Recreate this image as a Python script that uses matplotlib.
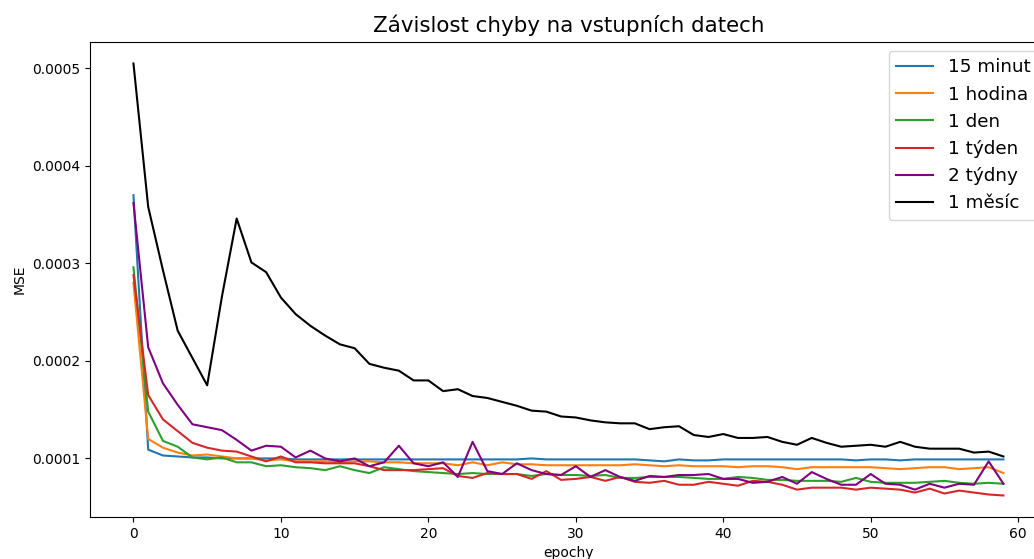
import numpy as np
import matplotlib.pyplot as plt
from matplotlib.ticker import FormatStrFormatter

# MSE hodnoty (v jednotkach 1e-4), epochy 0..59
epochs = np.arange(60)

mse_15min = [3.70, 1.09, 1.03, 1.02, 1.01, 1.01, 1.00, 1.00, 1.00, 1.00,
             1.00, 0.99, 0.99, 0.99, 0.99, 0.99, 0.99, 0.99, 0.99, 0.99,
             0.99, 0.99, 0.99, 0.99, 0.99, 0.99, 0.99, 1.00, 0.99, 0.99,
             0.99, 0.99, 0.99, 0.99, 0.99, 0.98, 0.97, 0.99, 0.98, 0.98,
             0.99, 0.99, 0.99, 0.99, 0.99, 0.99, 0.99, 0.99, 0.99, 0.98,
             0.99, 0.99, 0.98, 0.99, 0.99, 0.99, 0.99, 0.99, 0.99, 0.99]

mse_1h = [2.80, 1.20, 1.11, 1.06, 1.03, 1.04, 1.02, 1.00, 1.00, 0.98,
          0.99, 0.97, 0.97, 0.97, 0.96, 0.97, 0.97, 0.96, 0.96, 0.95,
          0.95, 0.95, 0.93, 0.96, 0.93, 0.96, 0.94, 0.94, 0.93, 0.93,
          0.93, 0.93, 0.93, 0.93, 0.94, 0.93, 0.92, 0.93, 0.92, 0.92,
          0.92, 0.91, 0.92, 0.92, 0.91, 0.89, 0.91, 0.91, 0.91, 0.91,
          0.91, 0.90, 0.89, 0.90, 0.91, 0.91, 0.89, 0.90, 0.91, 0.85]

mse_1d = [2.96, 1.48, 1.18, 1.12, 1.01, 0.99, 1.01, 0.96, 0.96, 0.92,
          0.93, 0.91, 0.90, 0.88, 0.92, 0.88, 0.85, 0.91, 0.89, 0.87,
          0.86, 0.85, 0.84, 0.85, 0.84, 0.84, 0.84, 0.82, 0.84, 0.83,
          0.83, 0.82, 0.83, 0.80, 0.80, 0.81, 0.81, 0.81, 0.80, 0.79,
          0.79, 0.81, 0.80, 0.78, 0.78, 0.77, 0.77, 0.77, 0.76, 0.80,
          0.76, 0.75, 0.75, 0.75, 0.76, 0.77, 0.75, 0.74, 0.75, 0.74]

mse_1w = [2.88, 1.65, 1.40, 1.28, 1.16, 1.11, 1.08, 1.07, 1.02, 0.97,
          1.02, 0.96, 0.96, 0.95, 0.95, 0.95, 0.92, 0.88, 0.88, 0.88,
          0.89, 0.90, 0.82, 0.80, 0.85, 0.84, 0.84, 0.79, 0.87, 0.78,
          0.79, 0.81, 0.77, 0.81, 0.76, 0.75, 0.77, 0.73, 0.73, 0.76,
          0.74, 0.72, 0.77, 0.76, 0.73, 0.68, 0.70, 0.70, 0.70, 0.68,
          0.70, 0.69, 0.68, 0.65, 0.69, 0.64, 0.67, 0.65, 0.63, 0.62]

mse_2w = [3.62, 2.14, 1.77, 1.55, 1.35, 1.32, 1.29, 1.19, 1.08, 1.13,
          1.12, 1.01, 1.08, 1.00, 0.97, 1.00, 0.92, 0.96, 1.13, 0.95,
          0.92, 0.96, 0.81, 1.17, 0.87, 0.84, 0.95, 0.88, 0.84, 0.83,
          0.92, 0.81, 0.88, 0.81, 0.77, 0.82, 0.81, 0.83, 0.83, 0.84,
          0.79, 0.79, 0.75, 0.76, 0.81, 0.74, 0.86, 0.79, 0.73, 0.73,
          0.84, 0.74, 0.73, 0.68, 0.74, 0.70, 0.74, 0.73, 0.97, 0.74]

mse_1m = [5.05, 3.58, 2.93, 2.31, 2.03, 1.75, 2.66, 3.46, 3.01, 2.91,
          2.65, 2.48, 2.36, 2.26, 2.17, 2.13, 1.97, 1.93, 1.90, 1.80,
          1.80, 1.69, 1.71, 1.64, 1.62, 1.58, 1.54, 1.49, 1.48, 1.43,
          1.42, 1.39, 1.37, 1.36, 1.36, 1.30, 1.32, 1.33, 1.24, 1.22,
          1.25, 1.21, 1.21, 1.22, 1.17, 1.14, 1.21, 1.16, 1.12, 1.13,
          1.14, 1.12, 1.17, 1.12, 1.10, 1.10, 1.10, 1.06, 1.07, 1.02]

labels = ['15 minut', '1 hodina', '1 den', '1 týden', '2 týdny', '1 měsíc']
colors = ['#1f77b4', '#ff7f0e', '#2ca02c', '#d62728', 'purple', 'black']

fig = plt.figure(figsize=(10.34, 5.59), dpi=100)
# obrazek je oriznuty vpravo a dole, proto osy presahuji plochu
ax = fig.add_axes([0.087, 0.075, 0.9255, 0.85])

series = [mse_15min, mse_1h, mse_1d, mse_1w, mse_2w, mse_1m]
for vals, lab, col in zip(series, labels, colors):
    ax.plot(epochs, np.array(vals) * 1e-4, color=col, label=lab)

ax.set_title('Závislost chyby na vstupních datech', fontsize=15.4, pad=7)
ax.set_xlabel('epochy')
ax.set_ylabel('MSE')
ax.yaxis.set_major_formatter(FormatStrFormatter('%.4f'))
ax.legend(fontsize=13.25, loc='upper right')

plt.savefig('out.png', dpi=100)
